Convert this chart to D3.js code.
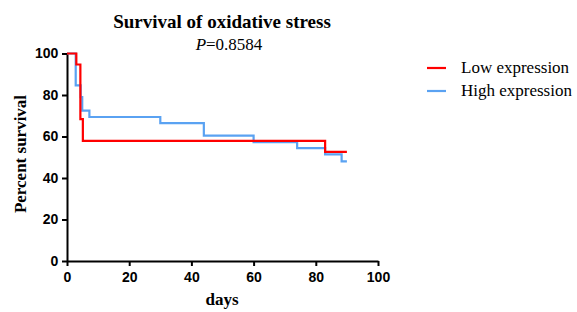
<!DOCTYPE html>
<html>
<head>
<meta charset="utf-8">
<script src="https://cdn.jsdelivr.net/npm/d3@7"></script>
<style>
  body { margin: 0; background: #fff; }
  svg { display: block; }
</style>
</head>
<body>
<svg width="577" height="312"></svg>
<script>
// Kaplan-Meier steps: [day, percent]
const lowDays = [0, 3, 4.3, 5.1, 83, 90];
const lowSurv = [100, 94.7, 68.4, 57.9, 52.6, 52.6];

const highDays = [0, 2.8, 4.4, 4.9, 7.2, 30, 44, 60, 74, 83, 88.3, 90];
const highSurv = [100, 84.6, 79, 72.5, 69.4, 66.4, 60.4, 57.3, 54.4, 51.4, 48, 48];

const xTicks = [0, 20, 40, 60, 80, 100];
const yTicks = [0, 20, 40, 60, 80, 100];

const seriesNames = ["Low expression", "High expression"];
const seriesColors = ["#ff0000", "#5aa2f2"];

const svg = d3.select("svg");

const x = d3.scaleLinear().domain([0, 100]).range([67, 378]);
const y = d3.scaleLinear().domain([0, 100]).range([261, 53.5]);

// axes
const xAxis = svg.append("g")
  .attr("transform", `translate(0,${y(0)})`)
  .call(d3.axisBottom(x).tickValues(xTicks).tickSize(5).tickSizeOuter(0));
const yAxis = svg.append("g")
  .attr("transform", `translate(${x(0)},0)`)
  .call(d3.axisLeft(y).tickValues(yTicks).tickSize(5).tickSizeOuter(0));

[xAxis, yAxis].forEach(g => {
  g.select(".domain").attr("stroke", "#000").attr("stroke-width", 2);
  g.selectAll(".tick line").attr("stroke", "#000").attr("stroke-width", 2);
  g.selectAll(".tick text")
    .attr("fill", "#000")
    .style("font-family", "Liberation Sans, Arial, sans-serif")
    .style("font-weight", "bold")
    .style("font-size", "14px");
});
xAxis.selectAll(".tick text").attr("dy", "0.95em");
yAxis.selectAll(".tick text").attr("dx", "-0.05em");

// survival curves
const line = d3.line()
  .x(d => x(d[0]))
  .y(d => y(d[1]))
  .curve(d3.curveStepAfter);

const curves = [
  d3.zip(lowDays, lowSurv),
  d3.zip(highDays, highSurv)
];

// draw blue below red
svg.append("path")
  .datum(curves[1])
  .attr("fill", "none")
  .attr("stroke", seriesColors[1])
  .attr("stroke-width", 2.2)
  .attr("d", line);
svg.append("path")
  .datum(curves[0])
  .attr("fill", "none")
  .attr("stroke", seriesColors[0])
  .attr("stroke-width", 2.2)
  .attr("d", line);

// titles
const serif = "Liberation Serif, Times New Roman, serif";
svg.append("text")
  .attr("x", 222).attr("y", 28)
  .attr("text-anchor", "middle")
  .style("font-family", serif)
  .style("font-weight", "bold")
  .style("font-size", "19px")
  .text("Survival of oxidative stress");

const pText = svg.append("text")
  .attr("x", 229).attr("y", 50)
  .attr("text-anchor", "middle")
  .style("font-family", serif)
  .style("font-size", "17px");
pText.append("tspan").style("font-style", "italic").text("P");
pText.append("tspan").text("=0.8584");

svg.append("text")
  .attr("x", 222).attr("y", 305)
  .attr("text-anchor", "middle")
  .style("font-family", serif)
  .style("font-weight", "bold")
  .style("font-size", "17px")
  .text("days");

svg.append("text")
  .attr("transform", `translate(26,154) rotate(-90)`)
  .attr("text-anchor", "middle")
  .style("font-family", serif)
  .style("font-weight", "bold")
  .style("font-size", "17px")
  .text("Percent survival");

// legend
const legend = svg.append("g")
  .selectAll("g")
  .data(seriesNames)
  .join("g")
  .attr("transform", (d, i) => `translate(427,${68 + i * 23})`);
legend.append("line")
  .attr("x1", 0).attr("x2", 19)
  .attr("stroke", (d, i) => seriesColors[i])
  .attr("stroke-width", 2.2);
legend.append("text")
  .attr("x", 34).attr("y", 5)
  .style("font-family", serif)
  .style("font-size", "17px")
  .text(d => d);
</script>
</body>
</html>
